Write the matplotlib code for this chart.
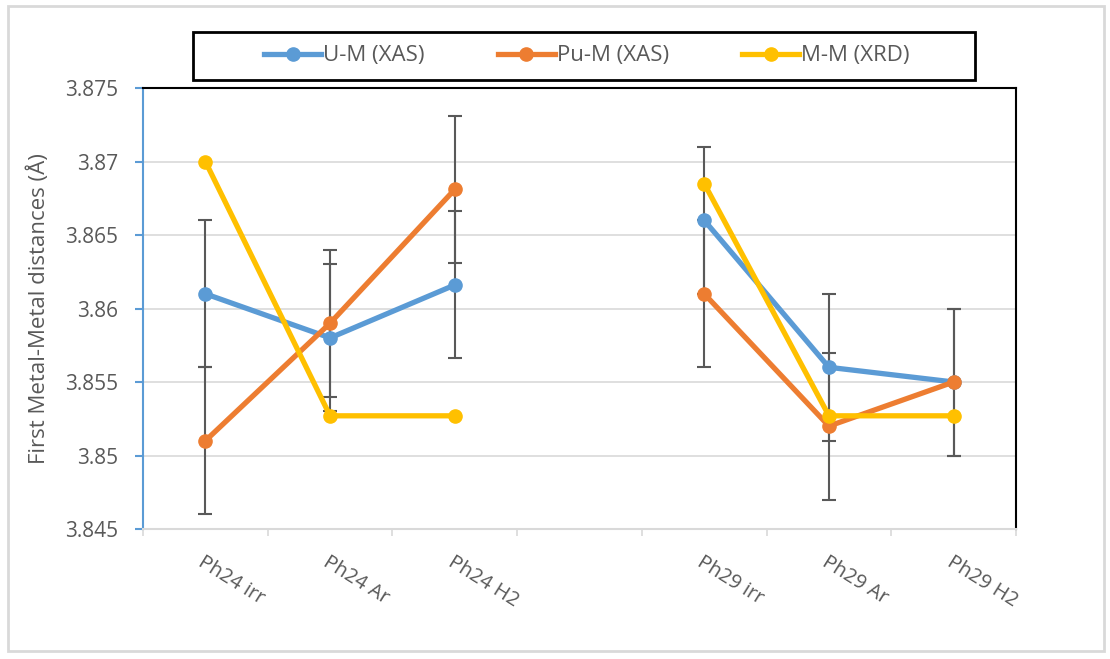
import numpy as np
import matplotlib.pyplot as plt
from matplotlib.patches import Rectangle

plt.rcParams['font.family'] = ['Open Sans', 'DejaVu Sans']

categories = ['Ph24 irr', 'Ph24 Ar', 'Ph24 H2', '', 'Ph29 irr', 'Ph29 Ar', 'Ph29 H2']
u_m = [3.861, 3.858, 3.8616, np.nan, 3.866, 3.856, 3.855]
pu_m = [3.851, 3.859, 3.8681, np.nan, 3.861, 3.852, 3.855]
m_m = [3.870, 3.8527, 3.8527, np.nan, 3.8685, 3.8527, 3.8527]
u_err = [0.005, 0.005, 0.005, np.nan, 0.005, 0.005, 0.005]
pu_err = [0.005, 0.005, 0.005, np.nan, 0.005, 0.005, 0.005]

text_color = '#595959'
grid_color = '#D9D9D9'

fig = plt.figure(figsize=(11.1, 6.59), dpi=100)
ax = fig.add_axes([143/1110, 1 - 529/659, 873/1110, 441/659])

x = np.arange(len(categories))

# error bars first, lines on top
for vals, errs in [(u_m, u_err), (pu_m, pu_err)]:
    ax.errorbar(x, vals, yerr=errs, fmt='none', ecolor='#595959',
                elinewidth=1.5, capsize=5, capthick=1.5, zorder=2)

ax.plot(x, u_m, color='#5B9BD5', lw=3.8, marker='o', ms=9.5, label='U-M (XAS)', zorder=3)
ax.plot(x, pu_m, color='#ED7D31', lw=3.8, marker='o', ms=9.5, label='Pu-M (XAS)', zorder=3)
ax.plot(x, m_m, color='#FFC000', lw=3.8, marker='o', ms=9.5, label='M-M (XRD)', zorder=3)

ax.set_xlim(-0.5, len(categories) - 0.5)
ax.set_ylim(3.845, 3.875)
ax.set_yticks([3.845, 3.85, 3.855, 3.86, 3.865, 3.87, 3.875])
ax.set_yticklabels(['3.845', '3.85', '3.855', '3.86', '3.865', '3.87', '3.875'])
ax.yaxis.grid(True, color=grid_color, lw=1.2)
ax.set_axisbelow(True)

ax.set_xticks(x)
ax.set_xticklabels(categories, rotation=-32, ha='left', va='top', rotation_mode='anchor')
ax.set_xticks(np.arange(len(categories) + 1) - 0.5, minor=True)
ax.tick_params(axis='x', which='major', length=0, pad=17, labelsize=14.5, labelcolor=text_color)
ax.tick_params(axis='x', which='minor', length=5, width=1.2, color=grid_color, direction='out')
ax.tick_params(axis='y', length=6, width=1.5, color='#5B9BD5', labelsize=15,
               labelcolor=text_color, pad=12)

ax.spines['left'].set_color('#5B9BD5')
ax.spines['left'].set_linewidth(1.5)
ax.spines['bottom'].set_color(grid_color)
ax.spines['bottom'].set_linewidth(1.5)
ax.spines['top'].set_color('black')
ax.spines['top'].set_linewidth(1.5)
ax.spines['right'].set_color('black')
ax.spines['right'].set_linewidth(1.5)

ax.set_ylabel('First Metal-Metal distances (Å)', fontsize=16, color=text_color)
ax.yaxis.set_label_coords(-0.107, 0.5)

# legend box drawn separately so the frame can be wider than the entries
fig.patches.append(Rectangle((193/1110, 1 - 80/659), 782/1110, 48/659, transform=fig.transFigure,
                             fill=False, edgecolor='black', lw=2, zorder=1))
leg = fig.legend(loc='center', ncol=3, bbox_to_anchor=(587/1110, 1 - 56/659),
                 fontsize=16, frameon=False, borderaxespad=0, borderpad=0,
                 handlelength=2.55, handletextpad=0.1, columnspacing=3.3)
for t in leg.get_texts():
    t.set_color(text_color)

fig.patches.append(Rectangle((8/1110, 8/659), 1096/1110, 645/659, transform=fig.transFigure,
                             fill=False, edgecolor=grid_color, lw=2))

plt.savefig('out.png', dpi=100)
